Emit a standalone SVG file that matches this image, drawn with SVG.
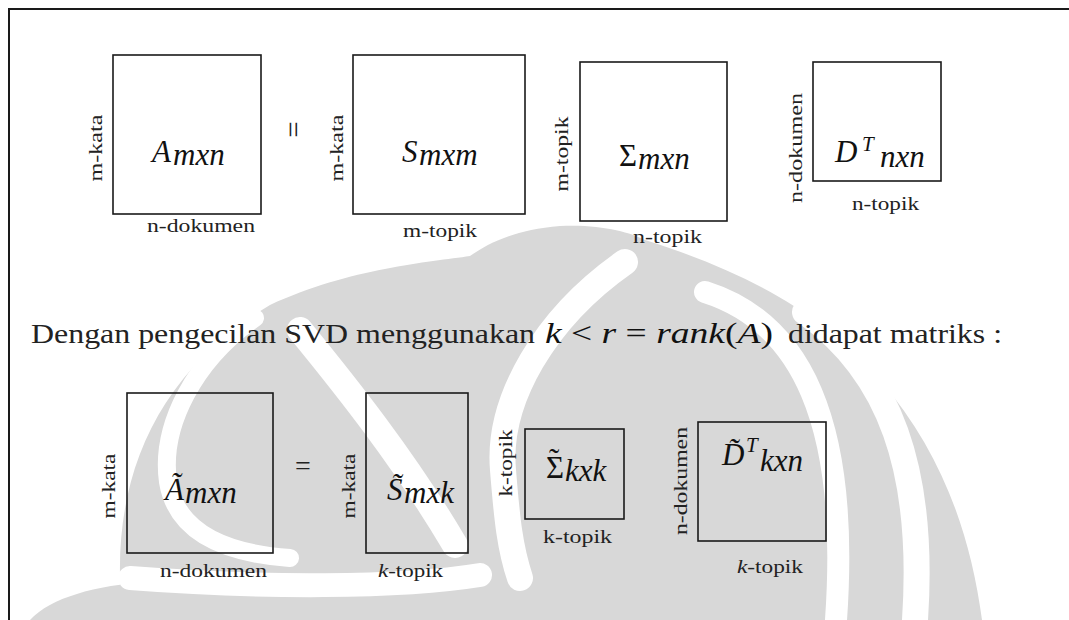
<svg xmlns="http://www.w3.org/2000/svg" width="1069" height="620" viewBox="0 0 1069 620">
<style>
.wm{fill:#d8d8d8}
.wb{fill:none;stroke:#fff;stroke-linecap:round}
.frame{fill:none;stroke:#1a1a1a;stroke-width:2}
.box{fill:none;stroke:#1a1a1a;stroke-width:1.6}
text{font-family:'Liberation Serif','Times New Roman',serif}
.lbl{font-size:19px;fill:#222}
.math{font-style:italic;font-size:31px;fill:#111}
.up{font-style:normal}
.sent{font-size:28px;fill:#222}
</style>
<rect width="1069" height="620" fill="#fff"/>
<g id="watermark">
<path class="wm" d="M120,575 C118,470 160,370 270,305 C350,268 430,262 470,256 C490,242 515,230 560,226 C600,224 630,232 645,240 C740,270 820,310 880,380 C940,450 970,530 982,620 L120,620 Z"/>
<path class="wm" d="M30,620 C50,598 95,585 150,582 L150,620 Z"/>
<path class="wb" stroke-width="18" d="M255,318 C195,360 160,425 168,482 C176,530 220,553 290,558"/>
<path class="wb" stroke-width="26" d="M300,330 C345,385 405,460 455,545"/>
<path class="wb" stroke-width="26" d="M625,262 C545,318 497,400 503,470 C507,520 510,548 520,578"/>
<path class="wb" stroke-width="24" d="M130,578 C260,588 400,588 480,575"/>
<path class="wb" stroke-width="22" d="M705,292 C800,322 850,420 836,620"/>
<path class="wb" stroke-width="26" d="M805,312 C890,372 925,470 915,620"/>
</g>
<g id="frame">
<path class="frame" d="M9,620 V9 H1069"/>
</g>
<g id="node-A">
<rect class="box" x="113" y="55" width="148" height="159"/>
<text class="math" x="152" y="162">A<tspan x="173" y="165">mxn</tspan></text>
<text class="lbl" transform="translate(102,148) rotate(-90)" text-anchor="middle" textLength="67" lengthAdjust="spacingAndGlyphs">m-kata</text>
<text class="lbl" x="147" y="232" textLength="108" lengthAdjust="spacingAndGlyphs">n-dokumen</text>
</g>
<g id="eq-top">
<text class="lbl" style="font-size:29px" transform="translate(290,129.5) rotate(90)" text-anchor="middle" y="7.5">=</text>
</g>
<g id="node-S">
<rect class="box" x="353" y="55" width="172" height="159"/>
<text class="math" x="402" y="162">S<tspan x="419" y="165">mxm</tspan></text>
<text class="lbl" transform="translate(343,148) rotate(-90)" text-anchor="middle" textLength="67" lengthAdjust="spacingAndGlyphs">m-kata</text>
<text class="lbl" x="403" y="237" textLength="74" lengthAdjust="spacingAndGlyphs">m-topik</text>
</g>
<g id="node-Sigma">
<rect class="box" x="580" y="62" width="147" height="159"/>
<text class="math" x="619" y="166"><tspan class="up">Σ</tspan><tspan x="638" y="169">mxn</tspan></text>
<text class="lbl" transform="translate(568,154) rotate(-90)" text-anchor="middle" textLength="75" lengthAdjust="spacingAndGlyphs">m-topik</text>
<text class="lbl" x="633" y="243" textLength="69" lengthAdjust="spacingAndGlyphs">n-topik</text>
</g>
<g id="node-DT">
<rect class="box" x="813" y="62" width="128" height="119"/>
<text class="math" x="835" y="162">D<tspan x="862" y="151" style="font-size:21px">T</tspan><tspan x="880" y="167">nxn</tspan></text>
<text class="lbl" transform="translate(802,148) rotate(-90)" text-anchor="middle" textLength="110" lengthAdjust="spacingAndGlyphs">n-dokumen</text>
<text class="lbl" x="852" y="210" textLength="67" lengthAdjust="spacingAndGlyphs">n-topik</text>
</g>
<g id="sentence">
<text class="sent" x="31" y="343" textLength="504" lengthAdjust="spacingAndGlyphs">Dengan pengecilan SVD menggunakan</text>
<text class="math" style="font-size:29px" x="545" y="343" textLength="228" lengthAdjust="spacingAndGlyphs">k <tspan class="up">&lt;</tspan> r <tspan class="up">=</tspan> rank<tspan class="up">(</tspan>A<tspan class="up">)</tspan></text>
<text class="sent" x="788" y="343" textLength="214" lengthAdjust="spacingAndGlyphs">didapat matriks :</text>
</g>
<g id="node-At">
<rect class="box" x="127" y="393" width="146" height="160"/>
<text class="math" x="165" y="500">Ã<tspan x="185" y="503">mxn</tspan></text>
<text class="lbl" transform="translate(115,486) rotate(-90)" text-anchor="middle" textLength="65" lengthAdjust="spacingAndGlyphs">m-kata</text>
<text class="lbl" x="160" y="577" textLength="107" lengthAdjust="spacingAndGlyphs">n-dokumen</text>
</g>
<g id="eq-bottom">
<text class="lbl" style="font-size:28px" x="303" y="475" text-anchor="middle">=</text>
</g>
<g id="node-St">
<rect class="box" x="366" y="393" width="102" height="160"/>
<text class="math" x="387" y="500">S̃<tspan x="404" y="503">mxk</tspan></text>
<text class="lbl" transform="translate(355,486) rotate(-90)" text-anchor="middle" textLength="65" lengthAdjust="spacingAndGlyphs">m-kata</text>
<text class="lbl" x="378" y="577" textLength="65" lengthAdjust="spacingAndGlyphs"><tspan font-style="italic">k</tspan>-topik</text>
</g>
<g id="node-Sigmat">
<rect class="box" x="525" y="429" width="99" height="90"/>
<text class="math" x="546" y="478"><tspan class="up">Σ</tspan><tspan class="up" x="549" y="470">˜</tspan><tspan x="565" y="481">kxk</tspan></text>
<text class="lbl" transform="translate(512,463) rotate(-90)" text-anchor="middle" textLength="67" lengthAdjust="spacingAndGlyphs">k-topik</text>
<text class="lbl" x="543" y="543" textLength="69" lengthAdjust="spacingAndGlyphs">k-topik</text>
</g>
<g id="node-DTt">
<rect class="box" x="698" y="422" width="128" height="119"/>
<text class="math" x="722" y="465">D̃<tspan x="746" y="452" style="font-size:21px">T</tspan><tspan x="760" y="471">kxn</tspan></text>
<text class="lbl" transform="translate(687,481) rotate(-90)" text-anchor="middle" textLength="108" lengthAdjust="spacingAndGlyphs">n-dokumen</text>
<text class="lbl" x="737" y="573" textLength="66" lengthAdjust="spacingAndGlyphs"><tspan font-style="italic">k</tspan>-topik</text>
</g>
<g id="connectors"/>
</svg>
